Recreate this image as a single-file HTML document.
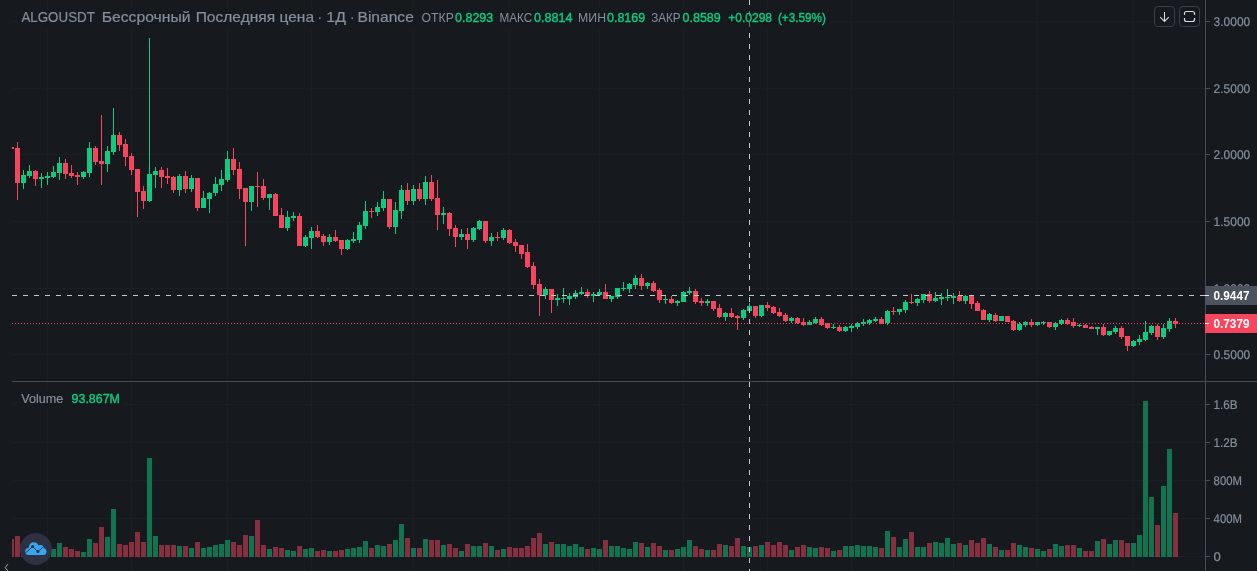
<!DOCTYPE html>
<html><head><meta charset="utf-8"><title>ALGOUSDT</title>
<style>html,body{margin:0;padding:0;background:#161a1e;overflow:hidden}svg{display:block}</style>
</head><body>
<svg width="1257" height="571" viewBox="0 0 1257 571" shape-rendering="crispEdges">
<rect width="1257" height="571" fill="#161a1e"/>
<g fill="#1b1f24">
<rect x="47" y="0" width="1" height="571"/>
<rect x="131" y="0" width="1" height="571"/>
<rect x="227" y="0" width="1" height="571"/>
<rect x="311" y="0" width="1" height="571"/>
<rect x="413" y="0" width="1" height="571"/>
<rect x="509" y="0" width="1" height="571"/>
<rect x="599" y="0" width="1" height="571"/>
<rect x="683" y="0" width="1" height="571"/>
<rect x="767" y="0" width="1" height="571"/>
<rect x="851" y="0" width="1" height="571"/>
<rect x="953" y="0" width="1" height="571"/>
<rect x="1037" y="0" width="1" height="571"/>
<rect x="1133" y="0" width="1" height="571"/>
<rect x="12" y="21" width="1193" height="1"/>
<rect x="12" y="88" width="1193" height="1"/>
<rect x="12" y="154" width="1193" height="1"/>
<rect x="12" y="221" width="1193" height="1"/>
<rect x="12" y="288" width="1193" height="1"/>
<rect x="12" y="354" width="1193" height="1"/>
<rect x="12" y="404" width="1193" height="1"/>
<rect x="12" y="442" width="1193" height="1"/>
<rect x="12" y="480" width="1193" height="1"/>
<rect x="12" y="518" width="1193" height="1"/>
<rect x="12" y="556" width="1193" height="1"/>
</g>
<g>
<rect x="12" y="539" width="2" height="18" fill="#86303f"/>
<rect x="15" y="536" width="5" height="21" fill="#86303f"/>
<rect x="21" y="547" width="5" height="10" fill="#127350"/>
<rect x="27" y="549" width="5" height="8" fill="#127350"/>
<rect x="33" y="549" width="5" height="8" fill="#86303f"/>
<rect x="39" y="549" width="5" height="8" fill="#127350"/>
<rect x="45" y="548" width="5" height="9" fill="#127350"/>
<rect x="51" y="549" width="5" height="8" fill="#127350"/>
<rect x="57" y="543" width="5" height="14" fill="#127350"/>
<rect x="63" y="547" width="5" height="10" fill="#86303f"/>
<rect x="69" y="549" width="5" height="8" fill="#86303f"/>
<rect x="75" y="551" width="5" height="6" fill="#86303f"/>
<rect x="81" y="552" width="5" height="5" fill="#127350"/>
<rect x="87" y="539" width="5" height="18" fill="#127350"/>
<rect x="93" y="543" width="5" height="14" fill="#86303f"/>
<rect x="99" y="527" width="5" height="30" fill="#86303f"/>
<rect x="105" y="537" width="5" height="20" fill="#127350"/>
<rect x="111" y="509" width="5" height="48" fill="#127350"/>
<rect x="117" y="544" width="5" height="13" fill="#86303f"/>
<rect x="123" y="545" width="5" height="12" fill="#86303f"/>
<rect x="129" y="542" width="5" height="15" fill="#86303f"/>
<rect x="135" y="532" width="5" height="25" fill="#86303f"/>
<rect x="141" y="542" width="5" height="15" fill="#86303f"/>
<rect x="147" y="458" width="5" height="99" fill="#127350"/>
<rect x="153" y="536" width="5" height="21" fill="#127350"/>
<rect x="159" y="545" width="5" height="12" fill="#86303f"/>
<rect x="165" y="545" width="5" height="12" fill="#86303f"/>
<rect x="171" y="545" width="5" height="12" fill="#86303f"/>
<rect x="177" y="546" width="5" height="11" fill="#127350"/>
<rect x="183" y="546" width="5" height="11" fill="#86303f"/>
<rect x="189" y="548" width="5" height="9" fill="#127350"/>
<rect x="195" y="542" width="5" height="15" fill="#86303f"/>
<rect x="201" y="548" width="5" height="9" fill="#127350"/>
<rect x="207" y="547" width="5" height="10" fill="#127350"/>
<rect x="213" y="545" width="5" height="12" fill="#127350"/>
<rect x="219" y="544" width="5" height="13" fill="#127350"/>
<rect x="225" y="540" width="5" height="17" fill="#127350"/>
<rect x="231" y="542" width="5" height="15" fill="#86303f"/>
<rect x="237" y="545" width="5" height="12" fill="#86303f"/>
<rect x="243" y="535" width="5" height="22" fill="#86303f"/>
<rect x="249" y="536" width="5" height="21" fill="#127350"/>
<rect x="255" y="520" width="5" height="37" fill="#86303f"/>
<rect x="261" y="545" width="5" height="12" fill="#86303f"/>
<rect x="267" y="549" width="5" height="8" fill="#127350"/>
<rect x="273" y="547" width="5" height="10" fill="#86303f"/>
<rect x="279" y="548" width="5" height="9" fill="#86303f"/>
<rect x="285" y="550" width="5" height="7" fill="#127350"/>
<rect x="291" y="551" width="5" height="6" fill="#127350"/>
<rect x="297" y="546" width="5" height="11" fill="#86303f"/>
<rect x="303" y="549" width="5" height="8" fill="#127350"/>
<rect x="309" y="548" width="5" height="9" fill="#127350"/>
<rect x="315" y="551" width="5" height="6" fill="#86303f"/>
<rect x="321" y="550" width="5" height="7" fill="#86303f"/>
<rect x="327" y="551" width="5" height="6" fill="#127350"/>
<rect x="333" y="551" width="5" height="6" fill="#86303f"/>
<rect x="339" y="550" width="5" height="7" fill="#86303f"/>
<rect x="345" y="549" width="5" height="8" fill="#127350"/>
<rect x="351" y="548" width="5" height="9" fill="#127350"/>
<rect x="357" y="547" width="5" height="10" fill="#127350"/>
<rect x="363" y="541" width="5" height="16" fill="#127350"/>
<rect x="369" y="548" width="5" height="9" fill="#86303f"/>
<rect x="375" y="545" width="5" height="12" fill="#127350"/>
<rect x="381" y="546" width="5" height="11" fill="#127350"/>
<rect x="387" y="544" width="5" height="13" fill="#86303f"/>
<rect x="393" y="540" width="5" height="17" fill="#127350"/>
<rect x="399" y="524" width="5" height="33" fill="#127350"/>
<rect x="405" y="538" width="5" height="19" fill="#86303f"/>
<rect x="411" y="548" width="5" height="9" fill="#127350"/>
<rect x="417" y="548" width="5" height="9" fill="#86303f"/>
<rect x="423" y="539" width="5" height="18" fill="#127350"/>
<rect x="429" y="540" width="5" height="17" fill="#86303f"/>
<rect x="435" y="540" width="5" height="17" fill="#86303f"/>
<rect x="441" y="545" width="5" height="12" fill="#127350"/>
<rect x="447" y="544" width="5" height="13" fill="#86303f"/>
<rect x="453" y="548" width="5" height="9" fill="#86303f"/>
<rect x="459" y="551" width="5" height="6" fill="#127350"/>
<rect x="465" y="544" width="5" height="13" fill="#86303f"/>
<rect x="471" y="546" width="5" height="11" fill="#127350"/>
<rect x="477" y="546" width="5" height="11" fill="#127350"/>
<rect x="483" y="543" width="5" height="14" fill="#86303f"/>
<rect x="489" y="546" width="5" height="11" fill="#127350"/>
<rect x="495" y="550" width="5" height="7" fill="#86303f"/>
<rect x="501" y="549" width="5" height="8" fill="#127350"/>
<rect x="507" y="547" width="5" height="10" fill="#86303f"/>
<rect x="513" y="548" width="5" height="9" fill="#86303f"/>
<rect x="519" y="548" width="5" height="9" fill="#86303f"/>
<rect x="525" y="546" width="5" height="11" fill="#86303f"/>
<rect x="531" y="538" width="5" height="19" fill="#86303f"/>
<rect x="537" y="533" width="5" height="24" fill="#86303f"/>
<rect x="543" y="544" width="5" height="13" fill="#127350"/>
<rect x="549" y="542" width="5" height="15" fill="#86303f"/>
<rect x="555" y="544" width="5" height="13" fill="#127350"/>
<rect x="561" y="544" width="5" height="13" fill="#127350"/>
<rect x="567" y="546" width="5" height="11" fill="#127350"/>
<rect x="573" y="544" width="5" height="13" fill="#127350"/>
<rect x="579" y="547" width="5" height="10" fill="#127350"/>
<rect x="585" y="549" width="5" height="8" fill="#86303f"/>
<rect x="591" y="548" width="5" height="9" fill="#127350"/>
<rect x="597" y="549" width="5" height="8" fill="#127350"/>
<rect x="603" y="540" width="5" height="17" fill="#86303f"/>
<rect x="609" y="546" width="5" height="11" fill="#127350"/>
<rect x="615" y="546" width="5" height="11" fill="#127350"/>
<rect x="621" y="548" width="5" height="9" fill="#127350"/>
<rect x="627" y="549" width="5" height="8" fill="#127350"/>
<rect x="633" y="542" width="5" height="15" fill="#127350"/>
<rect x="639" y="543" width="5" height="14" fill="#86303f"/>
<rect x="645" y="547" width="5" height="10" fill="#127350"/>
<rect x="651" y="543" width="5" height="14" fill="#86303f"/>
<rect x="657" y="546" width="5" height="11" fill="#86303f"/>
<rect x="663" y="550" width="5" height="7" fill="#127350"/>
<rect x="669" y="550" width="5" height="7" fill="#86303f"/>
<rect x="675" y="549" width="5" height="8" fill="#127350"/>
<rect x="681" y="547" width="5" height="10" fill="#127350"/>
<rect x="687" y="540" width="5" height="17" fill="#127350"/>
<rect x="693" y="546" width="5" height="11" fill="#86303f"/>
<rect x="699" y="549" width="5" height="8" fill="#86303f"/>
<rect x="705" y="550" width="5" height="7" fill="#127350"/>
<rect x="711" y="550" width="5" height="7" fill="#86303f"/>
<rect x="717" y="544" width="5" height="13" fill="#86303f"/>
<rect x="723" y="545" width="5" height="12" fill="#127350"/>
<rect x="729" y="546" width="5" height="11" fill="#86303f"/>
<rect x="735" y="538" width="5" height="19" fill="#86303f"/>
<rect x="741" y="546" width="5" height="11" fill="#127350"/>
<rect x="747" y="547" width="5" height="10" fill="#127350"/>
<rect x="753" y="546" width="5" height="11" fill="#86303f"/>
<rect x="759" y="545" width="5" height="12" fill="#127350"/>
<rect x="765" y="542" width="5" height="15" fill="#86303f"/>
<rect x="771" y="545" width="5" height="12" fill="#86303f"/>
<rect x="777" y="542" width="5" height="15" fill="#86303f"/>
<rect x="783" y="545" width="5" height="12" fill="#86303f"/>
<rect x="789" y="550" width="5" height="7" fill="#127350"/>
<rect x="795" y="547" width="5" height="10" fill="#86303f"/>
<rect x="801" y="545" width="5" height="12" fill="#86303f"/>
<rect x="807" y="547" width="5" height="10" fill="#127350"/>
<rect x="813" y="548" width="5" height="9" fill="#127350"/>
<rect x="819" y="547" width="5" height="10" fill="#86303f"/>
<rect x="825" y="548" width="5" height="9" fill="#86303f"/>
<rect x="831" y="551" width="5" height="6" fill="#127350"/>
<rect x="837" y="550" width="5" height="7" fill="#86303f"/>
<rect x="843" y="546" width="5" height="11" fill="#127350"/>
<rect x="849" y="546" width="5" height="11" fill="#127350"/>
<rect x="855" y="545" width="5" height="12" fill="#127350"/>
<rect x="861" y="546" width="5" height="11" fill="#127350"/>
<rect x="867" y="546" width="5" height="11" fill="#127350"/>
<rect x="873" y="547" width="5" height="10" fill="#127350"/>
<rect x="879" y="548" width="5" height="9" fill="#86303f"/>
<rect x="885" y="531" width="5" height="26" fill="#127350"/>
<rect x="891" y="537" width="5" height="20" fill="#86303f"/>
<rect x="897" y="547" width="5" height="10" fill="#127350"/>
<rect x="903" y="539" width="5" height="18" fill="#127350"/>
<rect x="909" y="532" width="5" height="25" fill="#86303f"/>
<rect x="915" y="547" width="5" height="10" fill="#127350"/>
<rect x="921" y="547" width="5" height="10" fill="#127350"/>
<rect x="927" y="543" width="5" height="14" fill="#86303f"/>
<rect x="933" y="542" width="5" height="15" fill="#127350"/>
<rect x="939" y="543" width="5" height="14" fill="#127350"/>
<rect x="945" y="538" width="5" height="19" fill="#127350"/>
<rect x="951" y="544" width="5" height="13" fill="#127350"/>
<rect x="957" y="543" width="5" height="14" fill="#86303f"/>
<rect x="963" y="545" width="5" height="12" fill="#127350"/>
<rect x="969" y="540" width="5" height="17" fill="#86303f"/>
<rect x="975" y="543" width="5" height="14" fill="#86303f"/>
<rect x="981" y="538" width="5" height="19" fill="#86303f"/>
<rect x="987" y="544" width="5" height="13" fill="#127350"/>
<rect x="993" y="547" width="5" height="10" fill="#86303f"/>
<rect x="999" y="550" width="5" height="7" fill="#127350"/>
<rect x="1005" y="550" width="5" height="7" fill="#86303f"/>
<rect x="1011" y="543" width="5" height="14" fill="#86303f"/>
<rect x="1017" y="545" width="5" height="12" fill="#127350"/>
<rect x="1023" y="547" width="5" height="10" fill="#127350"/>
<rect x="1029" y="548" width="5" height="9" fill="#86303f"/>
<rect x="1035" y="549" width="5" height="8" fill="#127350"/>
<rect x="1041" y="551" width="5" height="6" fill="#127350"/>
<rect x="1047" y="549" width="5" height="8" fill="#86303f"/>
<rect x="1053" y="544" width="5" height="13" fill="#127350"/>
<rect x="1059" y="546" width="5" height="11" fill="#127350"/>
<rect x="1065" y="545" width="5" height="12" fill="#86303f"/>
<rect x="1071" y="545" width="5" height="12" fill="#86303f"/>
<rect x="1077" y="548" width="5" height="9" fill="#127350"/>
<rect x="1083" y="551" width="5" height="6" fill="#86303f"/>
<rect x="1089" y="551" width="5" height="6" fill="#86303f"/>
<rect x="1095" y="541" width="5" height="16" fill="#127350"/>
<rect x="1101" y="539" width="5" height="18" fill="#86303f"/>
<rect x="1107" y="544" width="5" height="13" fill="#127350"/>
<rect x="1113" y="540" width="5" height="17" fill="#127350"/>
<rect x="1119" y="540" width="5" height="17" fill="#86303f"/>
<rect x="1125" y="543" width="5" height="14" fill="#86303f"/>
<rect x="1131" y="543" width="5" height="14" fill="#127350"/>
<rect x="1137" y="535" width="5" height="22" fill="#127350"/>
<rect x="1143" y="401" width="5" height="156" fill="#127350"/>
<rect x="1149" y="497" width="5" height="60" fill="#127350"/>
<rect x="1155" y="525" width="5" height="32" fill="#86303f"/>
<rect x="1161" y="486" width="5" height="71" fill="#127350"/>
<rect x="1167" y="449" width="5" height="108" fill="#127350"/>
<rect x="1173" y="513" width="5" height="44" fill="#86303f"/>
</g>
<g>
<rect x="12" y="147" width="2" height="2" fill="#f6465d"/>
<rect x="17" y="142" width="1" height="58" fill="#f6465d"/><rect x="15" y="148" width="5" height="35" fill="#f6465d"/>
<rect x="23" y="170" width="1" height="19" fill="#0ecb81"/><rect x="21" y="175" width="5" height="8" fill="#0ecb81"/>
<rect x="29" y="165" width="1" height="13" fill="#0ecb81"/><rect x="27" y="171" width="5" height="5" fill="#0ecb81"/>
<rect x="35" y="170" width="1" height="16" fill="#f6465d"/><rect x="33" y="171" width="5" height="8" fill="#f6465d"/>
<rect x="41" y="173" width="1" height="15" fill="#0ecb81"/><rect x="39" y="177" width="5" height="2" fill="#0ecb81"/>
<rect x="47" y="172" width="1" height="13" fill="#0ecb81"/><rect x="45" y="176" width="5" height="2" fill="#0ecb81"/>
<rect x="53" y="166" width="1" height="12" fill="#0ecb81"/><rect x="51" y="172" width="5" height="5" fill="#0ecb81"/>
<rect x="59" y="157" width="1" height="23" fill="#0ecb81"/><rect x="57" y="163" width="5" height="10" fill="#0ecb81"/>
<rect x="65" y="159" width="1" height="20" fill="#f6465d"/><rect x="63" y="163" width="5" height="11" fill="#f6465d"/>
<rect x="71" y="165" width="1" height="13" fill="#f6465d"/><rect x="69" y="173" width="5" height="3" fill="#f6465d"/>
<rect x="77" y="172" width="1" height="13" fill="#f6465d"/><rect x="75" y="175" width="5" height="2" fill="#f6465d"/>
<rect x="83" y="171" width="1" height="8" fill="#0ecb81"/><rect x="81" y="172" width="5" height="5" fill="#0ecb81"/>
<rect x="89" y="142" width="1" height="35" fill="#0ecb81"/><rect x="87" y="148" width="5" height="25" fill="#0ecb81"/>
<rect x="95" y="146" width="1" height="19" fill="#f6465d"/><rect x="93" y="148" width="5" height="14" fill="#f6465d"/>
<rect x="101" y="115" width="1" height="70" fill="#f6465d"/><rect x="99" y="161" width="5" height="3" fill="#f6465d"/>
<rect x="107" y="146" width="1" height="26" fill="#0ecb81"/><rect x="105" y="151" width="5" height="13" fill="#0ecb81"/>
<rect x="113" y="108" width="1" height="47" fill="#0ecb81"/><rect x="111" y="135" width="5" height="17" fill="#0ecb81"/>
<rect x="119" y="132" width="1" height="19" fill="#f6465d"/><rect x="117" y="135" width="5" height="10" fill="#f6465d"/>
<rect x="125" y="139" width="1" height="27" fill="#f6465d"/><rect x="123" y="144" width="5" height="13" fill="#f6465d"/>
<rect x="131" y="153" width="1" height="22" fill="#f6465d"/><rect x="129" y="156" width="5" height="14" fill="#f6465d"/>
<rect x="137" y="169" width="1" height="48" fill="#f6465d"/><rect x="135" y="169" width="5" height="23" fill="#f6465d"/>
<rect x="143" y="186" width="1" height="23" fill="#f6465d"/><rect x="141" y="191" width="5" height="10" fill="#f6465d"/>
<rect x="149" y="38" width="1" height="164" fill="#0ecb81"/><rect x="147" y="174" width="5" height="27" fill="#0ecb81"/>
<rect x="155" y="167" width="1" height="21" fill="#0ecb81"/><rect x="153" y="171" width="5" height="4" fill="#0ecb81"/>
<rect x="161" y="167" width="1" height="21" fill="#f6465d"/><rect x="159" y="170" width="5" height="7" fill="#f6465d"/>
<rect x="167" y="168" width="1" height="16" fill="#f6465d"/><rect x="165" y="176" width="5" height="2" fill="#f6465d"/>
<rect x="173" y="176" width="1" height="17" fill="#f6465d"/><rect x="171" y="177" width="5" height="13" fill="#f6465d"/>
<rect x="179" y="174" width="1" height="22" fill="#0ecb81"/><rect x="177" y="176" width="5" height="14" fill="#0ecb81"/>
<rect x="185" y="171" width="1" height="22" fill="#f6465d"/><rect x="183" y="176" width="5" height="13" fill="#f6465d"/>
<rect x="191" y="175" width="1" height="17" fill="#0ecb81"/><rect x="189" y="178" width="5" height="11" fill="#0ecb81"/>
<rect x="197" y="178" width="1" height="33" fill="#f6465d"/><rect x="195" y="178" width="5" height="30" fill="#f6465d"/>
<rect x="203" y="191" width="1" height="17" fill="#0ecb81"/><rect x="201" y="198" width="5" height="10" fill="#0ecb81"/>
<rect x="209" y="192" width="1" height="21" fill="#0ecb81"/><rect x="207" y="193" width="5" height="6" fill="#0ecb81"/>
<rect x="215" y="177" width="1" height="19" fill="#0ecb81"/><rect x="213" y="184" width="5" height="9" fill="#0ecb81"/>
<rect x="221" y="170" width="1" height="21" fill="#0ecb81"/><rect x="219" y="179" width="5" height="6" fill="#0ecb81"/>
<rect x="227" y="151" width="1" height="31" fill="#0ecb81"/><rect x="225" y="159" width="5" height="21" fill="#0ecb81"/>
<rect x="233" y="148" width="1" height="27" fill="#f6465d"/><rect x="231" y="159" width="5" height="11" fill="#f6465d"/>
<rect x="239" y="162" width="1" height="37" fill="#f6465d"/><rect x="237" y="169" width="5" height="20" fill="#f6465d"/>
<rect x="245" y="188" width="1" height="58" fill="#f6465d"/><rect x="243" y="188" width="5" height="14" fill="#f6465d"/>
<rect x="251" y="186" width="1" height="25" fill="#0ecb81"/><rect x="249" y="186" width="5" height="16" fill="#0ecb81"/>
<rect x="257" y="172" width="1" height="35" fill="#f6465d"/><rect x="255" y="186" width="5" height="1" fill="#f6465d"/>
<rect x="263" y="179" width="1" height="21" fill="#f6465d"/><rect x="261" y="186" width="5" height="12" fill="#f6465d"/>
<rect x="269" y="194" width="1" height="16" fill="#0ecb81"/><rect x="267" y="194" width="5" height="4" fill="#0ecb81"/>
<rect x="275" y="193" width="1" height="23" fill="#f6465d"/><rect x="273" y="194" width="5" height="22" fill="#f6465d"/>
<rect x="281" y="208" width="1" height="20" fill="#f6465d"/><rect x="279" y="215" width="5" height="13" fill="#f6465d"/>
<rect x="287" y="211" width="1" height="20" fill="#0ecb81"/><rect x="285" y="217" width="5" height="11" fill="#0ecb81"/>
<rect x="293" y="212" width="1" height="9" fill="#0ecb81"/><rect x="291" y="216" width="5" height="2" fill="#0ecb81"/>
<rect x="299" y="213" width="1" height="33" fill="#f6465d"/><rect x="297" y="216" width="5" height="30" fill="#f6465d"/>
<rect x="305" y="235" width="1" height="12" fill="#0ecb81"/><rect x="303" y="237" width="5" height="9" fill="#0ecb81"/>
<rect x="311" y="227" width="1" height="22" fill="#0ecb81"/><rect x="309" y="231" width="5" height="7" fill="#0ecb81"/>
<rect x="317" y="225" width="1" height="13" fill="#f6465d"/><rect x="315" y="231" width="5" height="6" fill="#f6465d"/>
<rect x="323" y="234" width="1" height="12" fill="#f6465d"/><rect x="321" y="236" width="5" height="6" fill="#f6465d"/>
<rect x="329" y="234" width="1" height="11" fill="#0ecb81"/><rect x="327" y="237" width="5" height="5" fill="#0ecb81"/>
<rect x="335" y="230" width="1" height="12" fill="#f6465d"/><rect x="333" y="237" width="5" height="4" fill="#f6465d"/>
<rect x="341" y="240" width="1" height="15" fill="#f6465d"/><rect x="339" y="240" width="5" height="9" fill="#f6465d"/>
<rect x="347" y="239" width="1" height="11" fill="#0ecb81"/><rect x="345" y="240" width="5" height="9" fill="#0ecb81"/>
<rect x="353" y="232" width="1" height="11" fill="#0ecb81"/><rect x="351" y="239" width="5" height="2" fill="#0ecb81"/>
<rect x="359" y="222" width="1" height="21" fill="#0ecb81"/><rect x="357" y="225" width="5" height="15" fill="#0ecb81"/>
<rect x="365" y="201" width="1" height="28" fill="#0ecb81"/><rect x="363" y="211" width="5" height="15" fill="#0ecb81"/>
<rect x="371" y="208" width="1" height="10" fill="#f6465d"/><rect x="369" y="211" width="5" height="1" fill="#f6465d"/>
<rect x="377" y="202" width="1" height="14" fill="#0ecb81"/><rect x="375" y="207" width="5" height="5" fill="#0ecb81"/>
<rect x="383" y="191" width="1" height="20" fill="#0ecb81"/><rect x="381" y="199" width="5" height="9" fill="#0ecb81"/>
<rect x="389" y="199" width="1" height="30" fill="#f6465d"/><rect x="387" y="199" width="5" height="28" fill="#f6465d"/>
<rect x="395" y="202" width="1" height="32" fill="#0ecb81"/><rect x="393" y="210" width="5" height="17" fill="#0ecb81"/>
<rect x="401" y="185" width="1" height="34" fill="#0ecb81"/><rect x="399" y="190" width="5" height="21" fill="#0ecb81"/>
<rect x="407" y="183" width="1" height="22" fill="#f6465d"/><rect x="405" y="190" width="5" height="11" fill="#f6465d"/>
<rect x="413" y="185" width="1" height="20" fill="#0ecb81"/><rect x="411" y="189" width="5" height="12" fill="#0ecb81"/>
<rect x="419" y="183" width="1" height="18" fill="#f6465d"/><rect x="417" y="189" width="5" height="10" fill="#f6465d"/>
<rect x="425" y="176" width="1" height="29" fill="#0ecb81"/><rect x="423" y="182" width="5" height="17" fill="#0ecb81"/>
<rect x="431" y="175" width="1" height="26" fill="#f6465d"/><rect x="429" y="182" width="5" height="17" fill="#f6465d"/>
<rect x="437" y="180" width="1" height="50" fill="#f6465d"/><rect x="435" y="198" width="5" height="17" fill="#f6465d"/>
<rect x="443" y="207" width="1" height="17" fill="#0ecb81"/><rect x="441" y="213" width="5" height="2" fill="#0ecb81"/>
<rect x="449" y="212" width="1" height="24" fill="#f6465d"/><rect x="447" y="213" width="5" height="16" fill="#f6465d"/>
<rect x="455" y="225" width="1" height="22" fill="#f6465d"/><rect x="453" y="228" width="5" height="9" fill="#f6465d"/>
<rect x="461" y="229" width="1" height="11" fill="#0ecb81"/><rect x="459" y="234" width="5" height="3" fill="#0ecb81"/>
<rect x="467" y="228" width="1" height="21" fill="#f6465d"/><rect x="465" y="234" width="5" height="6" fill="#f6465d"/>
<rect x="473" y="227" width="1" height="15" fill="#0ecb81"/><rect x="471" y="228" width="5" height="12" fill="#0ecb81"/>
<rect x="479" y="220" width="1" height="10" fill="#0ecb81"/><rect x="477" y="221" width="5" height="8" fill="#0ecb81"/>
<rect x="485" y="221" width="1" height="22" fill="#f6465d"/><rect x="483" y="221" width="5" height="20" fill="#f6465d"/>
<rect x="491" y="233" width="1" height="13" fill="#0ecb81"/><rect x="489" y="237" width="5" height="4" fill="#0ecb81"/>
<rect x="497" y="232" width="1" height="9" fill="#f6465d"/><rect x="495" y="237" width="5" height="1" fill="#f6465d"/>
<rect x="503" y="228" width="1" height="12" fill="#0ecb81"/><rect x="501" y="230" width="5" height="8" fill="#0ecb81"/>
<rect x="509" y="229" width="1" height="15" fill="#f6465d"/><rect x="507" y="230" width="5" height="13" fill="#f6465d"/>
<rect x="515" y="239" width="1" height="13" fill="#f6465d"/><rect x="513" y="242" width="5" height="4" fill="#f6465d"/>
<rect x="521" y="245" width="1" height="14" fill="#f6465d"/><rect x="519" y="245" width="5" height="9" fill="#f6465d"/>
<rect x="527" y="244" width="1" height="24" fill="#f6465d"/><rect x="525" y="252" width="5" height="15" fill="#f6465d"/>
<rect x="533" y="262" width="1" height="27" fill="#f6465d"/><rect x="531" y="266" width="5" height="19" fill="#f6465d"/>
<rect x="539" y="279" width="1" height="37" fill="#f6465d"/><rect x="537" y="284" width="5" height="11" fill="#f6465d"/>
<rect x="545" y="287" width="1" height="12" fill="#0ecb81"/><rect x="543" y="289" width="5" height="6" fill="#0ecb81"/>
<rect x="551" y="289" width="1" height="24" fill="#f6465d"/><rect x="549" y="289" width="5" height="11" fill="#f6465d"/>
<rect x="557" y="294" width="1" height="12" fill="#0ecb81"/><rect x="555" y="298" width="5" height="2" fill="#0ecb81"/>
<rect x="563" y="288" width="1" height="15" fill="#0ecb81"/><rect x="561" y="298" width="5" height="1" fill="#0ecb81"/>
<rect x="569" y="293" width="1" height="12" fill="#0ecb81"/><rect x="567" y="296" width="5" height="3" fill="#0ecb81"/>
<rect x="575" y="290" width="1" height="9" fill="#0ecb81"/><rect x="573" y="293" width="5" height="4" fill="#0ecb81"/>
<rect x="581" y="287" width="1" height="8" fill="#0ecb81"/><rect x="579" y="292" width="5" height="2" fill="#0ecb81"/>
<rect x="587" y="289" width="1" height="9" fill="#f6465d"/><rect x="585" y="292" width="5" height="4" fill="#f6465d"/>
<rect x="593" y="292" width="1" height="10" fill="#0ecb81"/><rect x="591" y="294" width="5" height="2" fill="#0ecb81"/>
<rect x="599" y="289" width="1" height="6" fill="#0ecb81"/><rect x="597" y="292" width="5" height="3" fill="#0ecb81"/>
<rect x="605" y="284" width="1" height="15" fill="#f6465d"/><rect x="603" y="292" width="5" height="7" fill="#f6465d"/>
<rect x="611" y="296" width="1" height="6" fill="#0ecb81"/><rect x="609" y="296" width="5" height="3" fill="#0ecb81"/>
<rect x="617" y="288" width="1" height="11" fill="#0ecb81"/><rect x="615" y="288" width="5" height="9" fill="#0ecb81"/>
<rect x="623" y="282" width="1" height="9" fill="#0ecb81"/><rect x="621" y="288" width="5" height="1" fill="#0ecb81"/>
<rect x="629" y="283" width="1" height="10" fill="#0ecb81"/><rect x="627" y="284" width="5" height="5" fill="#0ecb81"/>
<rect x="635" y="275" width="1" height="14" fill="#0ecb81"/><rect x="633" y="278" width="5" height="7" fill="#0ecb81"/>
<rect x="641" y="274" width="1" height="16" fill="#f6465d"/><rect x="639" y="278" width="5" height="8" fill="#f6465d"/>
<rect x="647" y="282" width="1" height="7" fill="#0ecb81"/><rect x="645" y="283" width="5" height="3" fill="#0ecb81"/>
<rect x="653" y="281" width="1" height="11" fill="#f6465d"/><rect x="651" y="283" width="5" height="8" fill="#f6465d"/>
<rect x="659" y="288" width="1" height="15" fill="#f6465d"/><rect x="657" y="290" width="5" height="10" fill="#f6465d"/>
<rect x="665" y="296" width="1" height="8" fill="#0ecb81"/><rect x="663" y="299" width="5" height="1" fill="#0ecb81"/>
<rect x="671" y="296" width="1" height="8" fill="#f6465d"/><rect x="669" y="299" width="5" height="4" fill="#f6465d"/>
<rect x="677" y="300" width="1" height="6" fill="#0ecb81"/><rect x="675" y="301" width="5" height="2" fill="#0ecb81"/>
<rect x="683" y="291" width="1" height="11" fill="#0ecb81"/><rect x="681" y="292" width="5" height="10" fill="#0ecb81"/>
<rect x="689" y="287" width="1" height="8" fill="#0ecb81"/><rect x="687" y="291" width="5" height="2" fill="#0ecb81"/>
<rect x="695" y="289" width="1" height="15" fill="#f6465d"/><rect x="693" y="291" width="5" height="11" fill="#f6465d"/>
<rect x="701" y="298" width="1" height="8" fill="#f6465d"/><rect x="699" y="301" width="5" height="2" fill="#f6465d"/>
<rect x="707" y="299" width="1" height="7" fill="#0ecb81"/><rect x="705" y="301" width="5" height="2" fill="#0ecb81"/>
<rect x="713" y="301" width="1" height="10" fill="#f6465d"/><rect x="711" y="301" width="5" height="8" fill="#f6465d"/>
<rect x="719" y="304" width="1" height="14" fill="#f6465d"/><rect x="717" y="308" width="5" height="9" fill="#f6465d"/>
<rect x="725" y="312" width="1" height="9" fill="#0ecb81"/><rect x="723" y="313" width="5" height="4" fill="#0ecb81"/>
<rect x="731" y="308" width="1" height="10" fill="#f6465d"/><rect x="729" y="313" width="5" height="4" fill="#f6465d"/>
<rect x="737" y="315" width="1" height="15" fill="#f6465d"/><rect x="735" y="316" width="5" height="2" fill="#f6465d"/>
<rect x="743" y="309" width="1" height="11" fill="#0ecb81"/><rect x="741" y="310" width="5" height="8" fill="#0ecb81"/>
<rect x="749" y="303" width="1" height="10" fill="#0ecb81"/><rect x="747" y="306" width="5" height="5" fill="#0ecb81"/>
<rect x="755" y="306" width="1" height="12" fill="#f6465d"/><rect x="753" y="306" width="5" height="10" fill="#f6465d"/>
<rect x="761" y="305" width="1" height="12" fill="#0ecb81"/><rect x="759" y="305" width="5" height="11" fill="#0ecb81"/>
<rect x="767" y="302" width="1" height="9" fill="#f6465d"/><rect x="765" y="305" width="5" height="3" fill="#f6465d"/>
<rect x="773" y="306" width="1" height="8" fill="#f6465d"/><rect x="771" y="307" width="5" height="6" fill="#f6465d"/>
<rect x="779" y="308" width="1" height="9" fill="#f6465d"/><rect x="777" y="312" width="5" height="4" fill="#f6465d"/>
<rect x="785" y="313" width="1" height="9" fill="#f6465d"/><rect x="783" y="315" width="5" height="6" fill="#f6465d"/>
<rect x="791" y="317" width="1" height="6" fill="#0ecb81"/><rect x="789" y="318" width="5" height="3" fill="#0ecb81"/>
<rect x="797" y="317" width="1" height="7" fill="#f6465d"/><rect x="795" y="318" width="5" height="5" fill="#f6465d"/>
<rect x="803" y="318" width="1" height="8" fill="#f6465d"/><rect x="801" y="322" width="5" height="3" fill="#f6465d"/>
<rect x="809" y="320" width="1" height="5" fill="#0ecb81"/><rect x="807" y="322" width="5" height="3" fill="#0ecb81"/>
<rect x="815" y="317" width="1" height="7" fill="#0ecb81"/><rect x="813" y="319" width="5" height="4" fill="#0ecb81"/>
<rect x="821" y="317" width="1" height="9" fill="#f6465d"/><rect x="819" y="319" width="5" height="6" fill="#f6465d"/>
<rect x="827" y="323" width="1" height="6" fill="#f6465d"/><rect x="825" y="323" width="5" height="5" fill="#f6465d"/>
<rect x="833" y="324" width="1" height="5" fill="#0ecb81"/><rect x="831" y="327" width="5" height="1" fill="#0ecb81"/>
<rect x="839" y="325" width="1" height="7" fill="#f6465d"/><rect x="837" y="327" width="5" height="4" fill="#f6465d"/>
<rect x="845" y="326" width="1" height="6" fill="#0ecb81"/><rect x="843" y="327" width="5" height="4" fill="#0ecb81"/>
<rect x="851" y="324" width="1" height="8" fill="#0ecb81"/><rect x="849" y="326" width="5" height="2" fill="#0ecb81"/>
<rect x="857" y="322" width="1" height="7" fill="#0ecb81"/><rect x="855" y="323" width="5" height="4" fill="#0ecb81"/>
<rect x="863" y="319" width="1" height="7" fill="#0ecb81"/><rect x="861" y="322" width="5" height="2" fill="#0ecb81"/>
<rect x="869" y="319" width="1" height="6" fill="#0ecb81"/><rect x="867" y="320" width="5" height="3" fill="#0ecb81"/>
<rect x="875" y="317" width="1" height="5" fill="#0ecb81"/><rect x="873" y="319" width="5" height="2" fill="#0ecb81"/>
<rect x="881" y="317" width="1" height="7" fill="#f6465d"/><rect x="879" y="319" width="5" height="5" fill="#f6465d"/>
<rect x="887" y="310" width="1" height="15" fill="#0ecb81"/><rect x="885" y="311" width="5" height="12" fill="#0ecb81"/>
<rect x="893" y="307" width="1" height="8" fill="#f6465d"/><rect x="891" y="311" width="5" height="1" fill="#f6465d"/>
<rect x="899" y="309" width="1" height="6" fill="#0ecb81"/><rect x="897" y="309" width="5" height="3" fill="#0ecb81"/>
<rect x="905" y="300" width="1" height="13" fill="#0ecb81"/><rect x="903" y="302" width="5" height="8" fill="#0ecb81"/>
<rect x="911" y="294" width="1" height="10" fill="#f6465d"/><rect x="909" y="302" width="5" height="1" fill="#f6465d"/>
<rect x="917" y="298" width="1" height="8" fill="#0ecb81"/><rect x="915" y="299" width="5" height="4" fill="#0ecb81"/>
<rect x="923" y="294" width="1" height="9" fill="#0ecb81"/><rect x="921" y="294" width="5" height="6" fill="#0ecb81"/>
<rect x="929" y="291" width="1" height="12" fill="#f6465d"/><rect x="927" y="294" width="5" height="7" fill="#f6465d"/>
<rect x="935" y="292" width="1" height="10" fill="#0ecb81"/><rect x="933" y="298" width="5" height="3" fill="#0ecb81"/>
<rect x="941" y="293" width="1" height="12" fill="#0ecb81"/><rect x="939" y="297" width="5" height="2" fill="#0ecb81"/>
<rect x="947" y="289" width="1" height="12" fill="#0ecb81"/><rect x="945" y="297" width="5" height="1" fill="#0ecb81"/>
<rect x="953" y="293" width="1" height="11" fill="#0ecb81"/><rect x="951" y="296" width="5" height="2" fill="#0ecb81"/>
<rect x="959" y="291" width="1" height="11" fill="#f6465d"/><rect x="957" y="296" width="5" height="5" fill="#f6465d"/>
<rect x="965" y="295" width="1" height="9" fill="#0ecb81"/><rect x="963" y="296" width="5" height="5" fill="#0ecb81"/>
<rect x="971" y="296" width="1" height="13" fill="#f6465d"/><rect x="969" y="296" width="5" height="8" fill="#f6465d"/>
<rect x="977" y="301" width="1" height="10" fill="#f6465d"/><rect x="975" y="303" width="5" height="8" fill="#f6465d"/>
<rect x="983" y="309" width="1" height="11" fill="#f6465d"/><rect x="981" y="310" width="5" height="10" fill="#f6465d"/>
<rect x="989" y="313" width="1" height="9" fill="#0ecb81"/><rect x="987" y="314" width="5" height="6" fill="#0ecb81"/>
<rect x="995" y="313" width="1" height="9" fill="#f6465d"/><rect x="993" y="315" width="5" height="6" fill="#f6465d"/>
<rect x="1001" y="316" width="1" height="5" fill="#0ecb81"/><rect x="999" y="316" width="5" height="5" fill="#0ecb81"/>
<rect x="1007" y="316" width="1" height="6" fill="#f6465d"/><rect x="1005" y="316" width="5" height="6" fill="#f6465d"/>
<rect x="1013" y="320" width="1" height="11" fill="#f6465d"/><rect x="1011" y="321" width="5" height="9" fill="#f6465d"/>
<rect x="1019" y="322" width="1" height="9" fill="#0ecb81"/><rect x="1017" y="324" width="5" height="6" fill="#0ecb81"/>
<rect x="1025" y="321" width="1" height="6" fill="#0ecb81"/><rect x="1023" y="322" width="5" height="3" fill="#0ecb81"/>
<rect x="1031" y="319" width="1" height="8" fill="#f6465d"/><rect x="1029" y="322" width="5" height="3" fill="#f6465d"/>
<rect x="1037" y="322" width="1" height="4" fill="#0ecb81"/><rect x="1035" y="322" width="5" height="3" fill="#0ecb81"/>
<rect x="1043" y="321" width="1" height="4" fill="#0ecb81"/><rect x="1041" y="322" width="5" height="1" fill="#0ecb81"/>
<rect x="1049" y="322" width="1" height="6" fill="#f6465d"/><rect x="1047" y="322" width="5" height="5" fill="#f6465d"/>
<rect x="1055" y="322" width="1" height="8" fill="#0ecb81"/><rect x="1053" y="323" width="5" height="4" fill="#0ecb81"/>
<rect x="1061" y="319" width="1" height="6" fill="#0ecb81"/><rect x="1059" y="320" width="5" height="4" fill="#0ecb81"/>
<rect x="1067" y="318" width="1" height="7" fill="#f6465d"/><rect x="1065" y="320" width="5" height="4" fill="#f6465d"/>
<rect x="1073" y="318" width="1" height="10" fill="#f6465d"/><rect x="1071" y="322" width="5" height="4" fill="#f6465d"/>
<rect x="1079" y="324" width="1" height="3" fill="#0ecb81"/><rect x="1077" y="325" width="5" height="1" fill="#0ecb81"/>
<rect x="1085" y="324" width="1" height="4" fill="#f6465d"/><rect x="1083" y="325" width="5" height="3" fill="#f6465d"/>
<rect x="1091" y="326" width="1" height="3" fill="#f6465d"/><rect x="1089" y="327" width="5" height="2" fill="#f6465d"/>
<rect x="1097" y="327" width="1" height="8" fill="#0ecb81"/><rect x="1095" y="327" width="5" height="2" fill="#0ecb81"/>
<rect x="1103" y="324" width="1" height="12" fill="#f6465d"/><rect x="1101" y="327" width="5" height="8" fill="#f6465d"/>
<rect x="1109" y="331" width="1" height="5" fill="#0ecb81"/><rect x="1107" y="331" width="5" height="4" fill="#0ecb81"/>
<rect x="1115" y="326" width="1" height="8" fill="#0ecb81"/><rect x="1113" y="328" width="5" height="4" fill="#0ecb81"/>
<rect x="1121" y="326" width="1" height="13" fill="#f6465d"/><rect x="1119" y="328" width="5" height="9" fill="#f6465d"/>
<rect x="1127" y="336" width="1" height="15" fill="#f6465d"/><rect x="1125" y="336" width="5" height="10" fill="#f6465d"/>
<rect x="1133" y="340" width="1" height="7" fill="#0ecb81"/><rect x="1131" y="341" width="5" height="5" fill="#0ecb81"/>
<rect x="1139" y="335" width="1" height="10" fill="#0ecb81"/><rect x="1137" y="339" width="5" height="3" fill="#0ecb81"/>
<rect x="1145" y="321" width="1" height="20" fill="#0ecb81"/><rect x="1143" y="332" width="5" height="8" fill="#0ecb81"/>
<rect x="1151" y="325" width="1" height="10" fill="#0ecb81"/><rect x="1149" y="326" width="5" height="7" fill="#0ecb81"/>
<rect x="1157" y="324" width="1" height="16" fill="#f6465d"/><rect x="1155" y="326" width="5" height="11" fill="#f6465d"/>
<rect x="1163" y="324" width="1" height="15" fill="#0ecb81"/><rect x="1161" y="328" width="5" height="9" fill="#0ecb81"/>
<rect x="1169" y="318" width="1" height="14" fill="#0ecb81"/><rect x="1167" y="321" width="5" height="8" fill="#0ecb81"/>
<rect x="1175" y="318" width="1" height="10" fill="#f6465d"/><rect x="1173" y="321" width="5" height="3" fill="#f6465d"/>
</g>
<g fill="#f6465d">
<rect x="12" y="323" width="1" height="1"/>
<rect x="15" y="323" width="1" height="1"/>
<rect x="18" y="323" width="1" height="1"/>
<rect x="21" y="323" width="1" height="1"/>
<rect x="24" y="323" width="1" height="1"/>
<rect x="27" y="323" width="1" height="1"/>
<rect x="30" y="323" width="1" height="1"/>
<rect x="33" y="323" width="1" height="1"/>
<rect x="36" y="323" width="1" height="1"/>
<rect x="39" y="323" width="1" height="1"/>
<rect x="42" y="323" width="1" height="1"/>
<rect x="45" y="323" width="1" height="1"/>
<rect x="48" y="323" width="1" height="1"/>
<rect x="51" y="323" width="1" height="1"/>
<rect x="54" y="323" width="1" height="1"/>
<rect x="57" y="323" width="1" height="1"/>
<rect x="60" y="323" width="1" height="1"/>
<rect x="63" y="323" width="1" height="1"/>
<rect x="66" y="323" width="1" height="1"/>
<rect x="69" y="323" width="1" height="1"/>
<rect x="72" y="323" width="1" height="1"/>
<rect x="75" y="323" width="1" height="1"/>
<rect x="78" y="323" width="1" height="1"/>
<rect x="81" y="323" width="1" height="1"/>
<rect x="84" y="323" width="1" height="1"/>
<rect x="87" y="323" width="1" height="1"/>
<rect x="90" y="323" width="1" height="1"/>
<rect x="93" y="323" width="1" height="1"/>
<rect x="96" y="323" width="1" height="1"/>
<rect x="99" y="323" width="1" height="1"/>
<rect x="102" y="323" width="1" height="1"/>
<rect x="105" y="323" width="1" height="1"/>
<rect x="108" y="323" width="1" height="1"/>
<rect x="111" y="323" width="1" height="1"/>
<rect x="114" y="323" width="1" height="1"/>
<rect x="117" y="323" width="1" height="1"/>
<rect x="120" y="323" width="1" height="1"/>
<rect x="123" y="323" width="1" height="1"/>
<rect x="126" y="323" width="1" height="1"/>
<rect x="129" y="323" width="1" height="1"/>
<rect x="132" y="323" width="1" height="1"/>
<rect x="135" y="323" width="1" height="1"/>
<rect x="138" y="323" width="1" height="1"/>
<rect x="141" y="323" width="1" height="1"/>
<rect x="144" y="323" width="1" height="1"/>
<rect x="147" y="323" width="1" height="1"/>
<rect x="150" y="323" width="1" height="1"/>
<rect x="153" y="323" width="1" height="1"/>
<rect x="156" y="323" width="1" height="1"/>
<rect x="159" y="323" width="1" height="1"/>
<rect x="162" y="323" width="1" height="1"/>
<rect x="165" y="323" width="1" height="1"/>
<rect x="168" y="323" width="1" height="1"/>
<rect x="171" y="323" width="1" height="1"/>
<rect x="174" y="323" width="1" height="1"/>
<rect x="177" y="323" width="1" height="1"/>
<rect x="180" y="323" width="1" height="1"/>
<rect x="183" y="323" width="1" height="1"/>
<rect x="186" y="323" width="1" height="1"/>
<rect x="189" y="323" width="1" height="1"/>
<rect x="192" y="323" width="1" height="1"/>
<rect x="195" y="323" width="1" height="1"/>
<rect x="198" y="323" width="1" height="1"/>
<rect x="201" y="323" width="1" height="1"/>
<rect x="204" y="323" width="1" height="1"/>
<rect x="207" y="323" width="1" height="1"/>
<rect x="210" y="323" width="1" height="1"/>
<rect x="213" y="323" width="1" height="1"/>
<rect x="216" y="323" width="1" height="1"/>
<rect x="219" y="323" width="1" height="1"/>
<rect x="222" y="323" width="1" height="1"/>
<rect x="225" y="323" width="1" height="1"/>
<rect x="228" y="323" width="1" height="1"/>
<rect x="231" y="323" width="1" height="1"/>
<rect x="234" y="323" width="1" height="1"/>
<rect x="237" y="323" width="1" height="1"/>
<rect x="240" y="323" width="1" height="1"/>
<rect x="243" y="323" width="1" height="1"/>
<rect x="246" y="323" width="1" height="1"/>
<rect x="249" y="323" width="1" height="1"/>
<rect x="252" y="323" width="1" height="1"/>
<rect x="255" y="323" width="1" height="1"/>
<rect x="258" y="323" width="1" height="1"/>
<rect x="261" y="323" width="1" height="1"/>
<rect x="264" y="323" width="1" height="1"/>
<rect x="267" y="323" width="1" height="1"/>
<rect x="270" y="323" width="1" height="1"/>
<rect x="273" y="323" width="1" height="1"/>
<rect x="276" y="323" width="1" height="1"/>
<rect x="279" y="323" width="1" height="1"/>
<rect x="282" y="323" width="1" height="1"/>
<rect x="285" y="323" width="1" height="1"/>
<rect x="288" y="323" width="1" height="1"/>
<rect x="291" y="323" width="1" height="1"/>
<rect x="294" y="323" width="1" height="1"/>
<rect x="297" y="323" width="1" height="1"/>
<rect x="300" y="323" width="1" height="1"/>
<rect x="303" y="323" width="1" height="1"/>
<rect x="306" y="323" width="1" height="1"/>
<rect x="309" y="323" width="1" height="1"/>
<rect x="312" y="323" width="1" height="1"/>
<rect x="315" y="323" width="1" height="1"/>
<rect x="318" y="323" width="1" height="1"/>
<rect x="321" y="323" width="1" height="1"/>
<rect x="324" y="323" width="1" height="1"/>
<rect x="327" y="323" width="1" height="1"/>
<rect x="330" y="323" width="1" height="1"/>
<rect x="333" y="323" width="1" height="1"/>
<rect x="336" y="323" width="1" height="1"/>
<rect x="339" y="323" width="1" height="1"/>
<rect x="342" y="323" width="1" height="1"/>
<rect x="345" y="323" width="1" height="1"/>
<rect x="348" y="323" width="1" height="1"/>
<rect x="351" y="323" width="1" height="1"/>
<rect x="354" y="323" width="1" height="1"/>
<rect x="357" y="323" width="1" height="1"/>
<rect x="360" y="323" width="1" height="1"/>
<rect x="363" y="323" width="1" height="1"/>
<rect x="366" y="323" width="1" height="1"/>
<rect x="369" y="323" width="1" height="1"/>
<rect x="372" y="323" width="1" height="1"/>
<rect x="375" y="323" width="1" height="1"/>
<rect x="378" y="323" width="1" height="1"/>
<rect x="381" y="323" width="1" height="1"/>
<rect x="384" y="323" width="1" height="1"/>
<rect x="387" y="323" width="1" height="1"/>
<rect x="390" y="323" width="1" height="1"/>
<rect x="393" y="323" width="1" height="1"/>
<rect x="396" y="323" width="1" height="1"/>
<rect x="399" y="323" width="1" height="1"/>
<rect x="402" y="323" width="1" height="1"/>
<rect x="405" y="323" width="1" height="1"/>
<rect x="408" y="323" width="1" height="1"/>
<rect x="411" y="323" width="1" height="1"/>
<rect x="414" y="323" width="1" height="1"/>
<rect x="417" y="323" width="1" height="1"/>
<rect x="420" y="323" width="1" height="1"/>
<rect x="423" y="323" width="1" height="1"/>
<rect x="426" y="323" width="1" height="1"/>
<rect x="429" y="323" width="1" height="1"/>
<rect x="432" y="323" width="1" height="1"/>
<rect x="435" y="323" width="1" height="1"/>
<rect x="438" y="323" width="1" height="1"/>
<rect x="441" y="323" width="1" height="1"/>
<rect x="444" y="323" width="1" height="1"/>
<rect x="447" y="323" width="1" height="1"/>
<rect x="450" y="323" width="1" height="1"/>
<rect x="453" y="323" width="1" height="1"/>
<rect x="456" y="323" width="1" height="1"/>
<rect x="459" y="323" width="1" height="1"/>
<rect x="462" y="323" width="1" height="1"/>
<rect x="465" y="323" width="1" height="1"/>
<rect x="468" y="323" width="1" height="1"/>
<rect x="471" y="323" width="1" height="1"/>
<rect x="474" y="323" width="1" height="1"/>
<rect x="477" y="323" width="1" height="1"/>
<rect x="480" y="323" width="1" height="1"/>
<rect x="483" y="323" width="1" height="1"/>
<rect x="486" y="323" width="1" height="1"/>
<rect x="489" y="323" width="1" height="1"/>
<rect x="492" y="323" width="1" height="1"/>
<rect x="495" y="323" width="1" height="1"/>
<rect x="498" y="323" width="1" height="1"/>
<rect x="501" y="323" width="1" height="1"/>
<rect x="504" y="323" width="1" height="1"/>
<rect x="507" y="323" width="1" height="1"/>
<rect x="510" y="323" width="1" height="1"/>
<rect x="513" y="323" width="1" height="1"/>
<rect x="516" y="323" width="1" height="1"/>
<rect x="519" y="323" width="1" height="1"/>
<rect x="522" y="323" width="1" height="1"/>
<rect x="525" y="323" width="1" height="1"/>
<rect x="528" y="323" width="1" height="1"/>
<rect x="531" y="323" width="1" height="1"/>
<rect x="534" y="323" width="1" height="1"/>
<rect x="537" y="323" width="1" height="1"/>
<rect x="540" y="323" width="1" height="1"/>
<rect x="543" y="323" width="1" height="1"/>
<rect x="546" y="323" width="1" height="1"/>
<rect x="549" y="323" width="1" height="1"/>
<rect x="552" y="323" width="1" height="1"/>
<rect x="555" y="323" width="1" height="1"/>
<rect x="558" y="323" width="1" height="1"/>
<rect x="561" y="323" width="1" height="1"/>
<rect x="564" y="323" width="1" height="1"/>
<rect x="567" y="323" width="1" height="1"/>
<rect x="570" y="323" width="1" height="1"/>
<rect x="573" y="323" width="1" height="1"/>
<rect x="576" y="323" width="1" height="1"/>
<rect x="579" y="323" width="1" height="1"/>
<rect x="582" y="323" width="1" height="1"/>
<rect x="585" y="323" width="1" height="1"/>
<rect x="588" y="323" width="1" height="1"/>
<rect x="591" y="323" width="1" height="1"/>
<rect x="594" y="323" width="1" height="1"/>
<rect x="597" y="323" width="1" height="1"/>
<rect x="600" y="323" width="1" height="1"/>
<rect x="603" y="323" width="1" height="1"/>
<rect x="606" y="323" width="1" height="1"/>
<rect x="609" y="323" width="1" height="1"/>
<rect x="612" y="323" width="1" height="1"/>
<rect x="615" y="323" width="1" height="1"/>
<rect x="618" y="323" width="1" height="1"/>
<rect x="621" y="323" width="1" height="1"/>
<rect x="624" y="323" width="1" height="1"/>
<rect x="627" y="323" width="1" height="1"/>
<rect x="630" y="323" width="1" height="1"/>
<rect x="633" y="323" width="1" height="1"/>
<rect x="636" y="323" width="1" height="1"/>
<rect x="639" y="323" width="1" height="1"/>
<rect x="642" y="323" width="1" height="1"/>
<rect x="645" y="323" width="1" height="1"/>
<rect x="648" y="323" width="1" height="1"/>
<rect x="651" y="323" width="1" height="1"/>
<rect x="654" y="323" width="1" height="1"/>
<rect x="657" y="323" width="1" height="1"/>
<rect x="660" y="323" width="1" height="1"/>
<rect x="663" y="323" width="1" height="1"/>
<rect x="666" y="323" width="1" height="1"/>
<rect x="669" y="323" width="1" height="1"/>
<rect x="672" y="323" width="1" height="1"/>
<rect x="675" y="323" width="1" height="1"/>
<rect x="678" y="323" width="1" height="1"/>
<rect x="681" y="323" width="1" height="1"/>
<rect x="684" y="323" width="1" height="1"/>
<rect x="687" y="323" width="1" height="1"/>
<rect x="690" y="323" width="1" height="1"/>
<rect x="693" y="323" width="1" height="1"/>
<rect x="696" y="323" width="1" height="1"/>
<rect x="699" y="323" width="1" height="1"/>
<rect x="702" y="323" width="1" height="1"/>
<rect x="705" y="323" width="1" height="1"/>
<rect x="708" y="323" width="1" height="1"/>
<rect x="711" y="323" width="1" height="1"/>
<rect x="714" y="323" width="1" height="1"/>
<rect x="717" y="323" width="1" height="1"/>
<rect x="720" y="323" width="1" height="1"/>
<rect x="723" y="323" width="1" height="1"/>
<rect x="726" y="323" width="1" height="1"/>
<rect x="729" y="323" width="1" height="1"/>
<rect x="732" y="323" width="1" height="1"/>
<rect x="735" y="323" width="1" height="1"/>
<rect x="738" y="323" width="1" height="1"/>
<rect x="741" y="323" width="1" height="1"/>
<rect x="744" y="323" width="1" height="1"/>
<rect x="747" y="323" width="1" height="1"/>
<rect x="750" y="323" width="1" height="1"/>
<rect x="753" y="323" width="1" height="1"/>
<rect x="756" y="323" width="1" height="1"/>
<rect x="759" y="323" width="1" height="1"/>
<rect x="762" y="323" width="1" height="1"/>
<rect x="765" y="323" width="1" height="1"/>
<rect x="768" y="323" width="1" height="1"/>
<rect x="771" y="323" width="1" height="1"/>
<rect x="774" y="323" width="1" height="1"/>
<rect x="777" y="323" width="1" height="1"/>
<rect x="780" y="323" width="1" height="1"/>
<rect x="783" y="323" width="1" height="1"/>
<rect x="786" y="323" width="1" height="1"/>
<rect x="789" y="323" width="1" height="1"/>
<rect x="792" y="323" width="1" height="1"/>
<rect x="795" y="323" width="1" height="1"/>
<rect x="798" y="323" width="1" height="1"/>
<rect x="801" y="323" width="1" height="1"/>
<rect x="804" y="323" width="1" height="1"/>
<rect x="807" y="323" width="1" height="1"/>
<rect x="810" y="323" width="1" height="1"/>
<rect x="813" y="323" width="1" height="1"/>
<rect x="816" y="323" width="1" height="1"/>
<rect x="819" y="323" width="1" height="1"/>
<rect x="822" y="323" width="1" height="1"/>
<rect x="825" y="323" width="1" height="1"/>
<rect x="828" y="323" width="1" height="1"/>
<rect x="831" y="323" width="1" height="1"/>
<rect x="834" y="323" width="1" height="1"/>
<rect x="837" y="323" width="1" height="1"/>
<rect x="840" y="323" width="1" height="1"/>
<rect x="843" y="323" width="1" height="1"/>
<rect x="846" y="323" width="1" height="1"/>
<rect x="849" y="323" width="1" height="1"/>
<rect x="852" y="323" width="1" height="1"/>
<rect x="855" y="323" width="1" height="1"/>
<rect x="858" y="323" width="1" height="1"/>
<rect x="861" y="323" width="1" height="1"/>
<rect x="864" y="323" width="1" height="1"/>
<rect x="867" y="323" width="1" height="1"/>
<rect x="870" y="323" width="1" height="1"/>
<rect x="873" y="323" width="1" height="1"/>
<rect x="876" y="323" width="1" height="1"/>
<rect x="879" y="323" width="1" height="1"/>
<rect x="882" y="323" width="1" height="1"/>
<rect x="885" y="323" width="1" height="1"/>
<rect x="888" y="323" width="1" height="1"/>
<rect x="891" y="323" width="1" height="1"/>
<rect x="894" y="323" width="1" height="1"/>
<rect x="897" y="323" width="1" height="1"/>
<rect x="900" y="323" width="1" height="1"/>
<rect x="903" y="323" width="1" height="1"/>
<rect x="906" y="323" width="1" height="1"/>
<rect x="909" y="323" width="1" height="1"/>
<rect x="912" y="323" width="1" height="1"/>
<rect x="915" y="323" width="1" height="1"/>
<rect x="918" y="323" width="1" height="1"/>
<rect x="921" y="323" width="1" height="1"/>
<rect x="924" y="323" width="1" height="1"/>
<rect x="927" y="323" width="1" height="1"/>
<rect x="930" y="323" width="1" height="1"/>
<rect x="933" y="323" width="1" height="1"/>
<rect x="936" y="323" width="1" height="1"/>
<rect x="939" y="323" width="1" height="1"/>
<rect x="942" y="323" width="1" height="1"/>
<rect x="945" y="323" width="1" height="1"/>
<rect x="948" y="323" width="1" height="1"/>
<rect x="951" y="323" width="1" height="1"/>
<rect x="954" y="323" width="1" height="1"/>
<rect x="957" y="323" width="1" height="1"/>
<rect x="960" y="323" width="1" height="1"/>
<rect x="963" y="323" width="1" height="1"/>
<rect x="966" y="323" width="1" height="1"/>
<rect x="969" y="323" width="1" height="1"/>
<rect x="972" y="323" width="1" height="1"/>
<rect x="975" y="323" width="1" height="1"/>
<rect x="978" y="323" width="1" height="1"/>
<rect x="981" y="323" width="1" height="1"/>
<rect x="984" y="323" width="1" height="1"/>
<rect x="987" y="323" width="1" height="1"/>
<rect x="990" y="323" width="1" height="1"/>
<rect x="993" y="323" width="1" height="1"/>
<rect x="996" y="323" width="1" height="1"/>
<rect x="999" y="323" width="1" height="1"/>
<rect x="1002" y="323" width="1" height="1"/>
<rect x="1005" y="323" width="1" height="1"/>
<rect x="1008" y="323" width="1" height="1"/>
<rect x="1011" y="323" width="1" height="1"/>
<rect x="1014" y="323" width="1" height="1"/>
<rect x="1017" y="323" width="1" height="1"/>
<rect x="1020" y="323" width="1" height="1"/>
<rect x="1023" y="323" width="1" height="1"/>
<rect x="1026" y="323" width="1" height="1"/>
<rect x="1029" y="323" width="1" height="1"/>
<rect x="1032" y="323" width="1" height="1"/>
<rect x="1035" y="323" width="1" height="1"/>
<rect x="1038" y="323" width="1" height="1"/>
<rect x="1041" y="323" width="1" height="1"/>
<rect x="1044" y="323" width="1" height="1"/>
<rect x="1047" y="323" width="1" height="1"/>
<rect x="1050" y="323" width="1" height="1"/>
<rect x="1053" y="323" width="1" height="1"/>
<rect x="1056" y="323" width="1" height="1"/>
<rect x="1059" y="323" width="1" height="1"/>
<rect x="1062" y="323" width="1" height="1"/>
<rect x="1065" y="323" width="1" height="1"/>
<rect x="1068" y="323" width="1" height="1"/>
<rect x="1071" y="323" width="1" height="1"/>
<rect x="1074" y="323" width="1" height="1"/>
<rect x="1077" y="323" width="1" height="1"/>
<rect x="1080" y="323" width="1" height="1"/>
<rect x="1083" y="323" width="1" height="1"/>
<rect x="1086" y="323" width="1" height="1"/>
<rect x="1089" y="323" width="1" height="1"/>
<rect x="1092" y="323" width="1" height="1"/>
<rect x="1095" y="323" width="1" height="1"/>
<rect x="1098" y="323" width="1" height="1"/>
<rect x="1101" y="323" width="1" height="1"/>
<rect x="1104" y="323" width="1" height="1"/>
<rect x="1107" y="323" width="1" height="1"/>
<rect x="1110" y="323" width="1" height="1"/>
<rect x="1113" y="323" width="1" height="1"/>
<rect x="1116" y="323" width="1" height="1"/>
<rect x="1119" y="323" width="1" height="1"/>
<rect x="1122" y="323" width="1" height="1"/>
<rect x="1125" y="323" width="1" height="1"/>
<rect x="1128" y="323" width="1" height="1"/>
<rect x="1131" y="323" width="1" height="1"/>
<rect x="1134" y="323" width="1" height="1"/>
<rect x="1137" y="323" width="1" height="1"/>
<rect x="1140" y="323" width="1" height="1"/>
<rect x="1143" y="323" width="1" height="1"/>
<rect x="1146" y="323" width="1" height="1"/>
<rect x="1149" y="323" width="1" height="1"/>
<rect x="1152" y="323" width="1" height="1"/>
<rect x="1155" y="323" width="1" height="1"/>
<rect x="1158" y="323" width="1" height="1"/>
<rect x="1161" y="323" width="1" height="1"/>
<rect x="1164" y="323" width="1" height="1"/>
<rect x="1167" y="323" width="1" height="1"/>
<rect x="1170" y="323" width="1" height="1"/>
<rect x="1173" y="323" width="1" height="1"/>
<rect x="1176" y="323" width="1" height="1"/>
<rect x="1179" y="323" width="1" height="1"/>
<rect x="1182" y="323" width="1" height="1"/>
<rect x="1185" y="323" width="1" height="1"/>
<rect x="1188" y="323" width="1" height="1"/>
<rect x="1191" y="323" width="1" height="1"/>
<rect x="1194" y="323" width="1" height="1"/>
<rect x="1197" y="323" width="1" height="1"/>
<rect x="1200" y="323" width="1" height="1"/>
<rect x="1203" y="323" width="1" height="1"/>
</g>
<rect x="12" y="381" width="1245" height="1" fill="#474d57"/>
<g fill="#c3c6cd">
<rect x="12" y="295" width="5" height="1"/>
<rect x="23" y="295" width="5" height="1"/>
<rect x="34" y="295" width="5" height="1"/>
<rect x="45" y="295" width="5" height="1"/>
<rect x="56" y="295" width="5" height="1"/>
<rect x="67" y="295" width="5" height="1"/>
<rect x="78" y="295" width="5" height="1"/>
<rect x="89" y="295" width="5" height="1"/>
<rect x="100" y="295" width="5" height="1"/>
<rect x="111" y="295" width="5" height="1"/>
<rect x="122" y="295" width="5" height="1"/>
<rect x="133" y="295" width="5" height="1"/>
<rect x="144" y="295" width="5" height="1"/>
<rect x="155" y="295" width="5" height="1"/>
<rect x="166" y="295" width="5" height="1"/>
<rect x="177" y="295" width="5" height="1"/>
<rect x="188" y="295" width="5" height="1"/>
<rect x="199" y="295" width="5" height="1"/>
<rect x="210" y="295" width="5" height="1"/>
<rect x="221" y="295" width="5" height="1"/>
<rect x="232" y="295" width="5" height="1"/>
<rect x="243" y="295" width="5" height="1"/>
<rect x="254" y="295" width="5" height="1"/>
<rect x="265" y="295" width="5" height="1"/>
<rect x="276" y="295" width="5" height="1"/>
<rect x="287" y="295" width="5" height="1"/>
<rect x="298" y="295" width="5" height="1"/>
<rect x="309" y="295" width="5" height="1"/>
<rect x="320" y="295" width="5" height="1"/>
<rect x="331" y="295" width="5" height="1"/>
<rect x="342" y="295" width="5" height="1"/>
<rect x="353" y="295" width="5" height="1"/>
<rect x="364" y="295" width="5" height="1"/>
<rect x="375" y="295" width="5" height="1"/>
<rect x="386" y="295" width="5" height="1"/>
<rect x="397" y="295" width="5" height="1"/>
<rect x="408" y="295" width="5" height="1"/>
<rect x="419" y="295" width="5" height="1"/>
<rect x="430" y="295" width="5" height="1"/>
<rect x="441" y="295" width="5" height="1"/>
<rect x="452" y="295" width="5" height="1"/>
<rect x="463" y="295" width="5" height="1"/>
<rect x="474" y="295" width="5" height="1"/>
<rect x="485" y="295" width="5" height="1"/>
<rect x="496" y="295" width="5" height="1"/>
<rect x="507" y="295" width="5" height="1"/>
<rect x="518" y="295" width="5" height="1"/>
<rect x="529" y="295" width="5" height="1"/>
<rect x="540" y="295" width="5" height="1"/>
<rect x="551" y="295" width="5" height="1"/>
<rect x="562" y="295" width="5" height="1"/>
<rect x="573" y="295" width="5" height="1"/>
<rect x="584" y="295" width="5" height="1"/>
<rect x="595" y="295" width="5" height="1"/>
<rect x="606" y="295" width="5" height="1"/>
<rect x="617" y="295" width="5" height="1"/>
<rect x="628" y="295" width="5" height="1"/>
<rect x="639" y="295" width="5" height="1"/>
<rect x="650" y="295" width="5" height="1"/>
<rect x="661" y="295" width="5" height="1"/>
<rect x="672" y="295" width="5" height="1"/>
<rect x="683" y="295" width="5" height="1"/>
<rect x="694" y="295" width="5" height="1"/>
<rect x="705" y="295" width="5" height="1"/>
<rect x="716" y="295" width="5" height="1"/>
<rect x="727" y="295" width="5" height="1"/>
<rect x="738" y="295" width="5" height="1"/>
<rect x="749" y="295" width="5" height="1"/>
<rect x="760" y="295" width="5" height="1"/>
<rect x="771" y="295" width="5" height="1"/>
<rect x="782" y="295" width="5" height="1"/>
<rect x="793" y="295" width="5" height="1"/>
<rect x="804" y="295" width="5" height="1"/>
<rect x="815" y="295" width="5" height="1"/>
<rect x="826" y="295" width="5" height="1"/>
<rect x="837" y="295" width="5" height="1"/>
<rect x="848" y="295" width="5" height="1"/>
<rect x="859" y="295" width="5" height="1"/>
<rect x="870" y="295" width="5" height="1"/>
<rect x="881" y="295" width="5" height="1"/>
<rect x="892" y="295" width="5" height="1"/>
<rect x="903" y="295" width="5" height="1"/>
<rect x="914" y="295" width="5" height="1"/>
<rect x="925" y="295" width="5" height="1"/>
<rect x="936" y="295" width="5" height="1"/>
<rect x="947" y="295" width="5" height="1"/>
<rect x="958" y="295" width="5" height="1"/>
<rect x="969" y="295" width="5" height="1"/>
<rect x="980" y="295" width="5" height="1"/>
<rect x="991" y="295" width="5" height="1"/>
<rect x="1002" y="295" width="5" height="1"/>
<rect x="1013" y="295" width="5" height="1"/>
<rect x="1024" y="295" width="5" height="1"/>
<rect x="1035" y="295" width="5" height="1"/>
<rect x="1046" y="295" width="5" height="1"/>
<rect x="1057" y="295" width="5" height="1"/>
<rect x="1068" y="295" width="5" height="1"/>
<rect x="1079" y="295" width="5" height="1"/>
<rect x="1090" y="295" width="5" height="1"/>
<rect x="1101" y="295" width="5" height="1"/>
<rect x="1112" y="295" width="5" height="1"/>
<rect x="1123" y="295" width="5" height="1"/>
<rect x="1134" y="295" width="5" height="1"/>
<rect x="1145" y="295" width="5" height="1"/>
<rect x="1156" y="295" width="5" height="1"/>
<rect x="1167" y="295" width="5" height="1"/>
<rect x="1178" y="295" width="5" height="1"/>
<rect x="1189" y="295" width="5" height="1"/>
<rect x="1200" y="295" width="5" height="1"/>
<rect x="749" y="0" width="1" height="5"/>
<rect x="749" y="11" width="1" height="5"/>
<rect x="749" y="22" width="1" height="5"/>
<rect x="749" y="33" width="1" height="5"/>
<rect x="749" y="44" width="1" height="5"/>
<rect x="749" y="55" width="1" height="5"/>
<rect x="749" y="66" width="1" height="5"/>
<rect x="749" y="77" width="1" height="5"/>
<rect x="749" y="88" width="1" height="5"/>
<rect x="749" y="99" width="1" height="5"/>
<rect x="749" y="110" width="1" height="5"/>
<rect x="749" y="121" width="1" height="5"/>
<rect x="749" y="132" width="1" height="5"/>
<rect x="749" y="143" width="1" height="5"/>
<rect x="749" y="154" width="1" height="5"/>
<rect x="749" y="165" width="1" height="5"/>
<rect x="749" y="176" width="1" height="5"/>
<rect x="749" y="187" width="1" height="5"/>
<rect x="749" y="198" width="1" height="5"/>
<rect x="749" y="209" width="1" height="5"/>
<rect x="749" y="220" width="1" height="5"/>
<rect x="749" y="231" width="1" height="5"/>
<rect x="749" y="242" width="1" height="5"/>
<rect x="749" y="253" width="1" height="5"/>
<rect x="749" y="264" width="1" height="5"/>
<rect x="749" y="275" width="1" height="5"/>
<rect x="749" y="286" width="1" height="5"/>
<rect x="749" y="297" width="1" height="5"/>
<rect x="749" y="308" width="1" height="5"/>
<rect x="749" y="319" width="1" height="5"/>
<rect x="749" y="330" width="1" height="5"/>
<rect x="749" y="341" width="1" height="5"/>
<rect x="749" y="352" width="1" height="5"/>
<rect x="749" y="363" width="1" height="5"/>
<rect x="749" y="374" width="1" height="5"/>
<rect x="749" y="382" width="1" height="5"/>
<rect x="749" y="393" width="1" height="5"/>
<rect x="749" y="404" width="1" height="5"/>
<rect x="749" y="415" width="1" height="5"/>
<rect x="749" y="426" width="1" height="5"/>
<rect x="749" y="437" width="1" height="5"/>
<rect x="749" y="448" width="1" height="5"/>
<rect x="749" y="459" width="1" height="5"/>
<rect x="749" y="470" width="1" height="5"/>
<rect x="749" y="481" width="1" height="5"/>
<rect x="749" y="492" width="1" height="5"/>
<rect x="749" y="503" width="1" height="5"/>
<rect x="749" y="514" width="1" height="5"/>
<rect x="749" y="525" width="1" height="5"/>
<rect x="749" y="536" width="1" height="5"/>
<rect x="749" y="547" width="1" height="5"/>
<rect x="749" y="558" width="1" height="5"/>
<rect x="749" y="569" width="1" height="2"/>
</g>
<rect x="1205" y="0" width="52" height="571" fill="#161a1e"/>
<rect x="12" y="381" width="1245" height="1" fill="#474d57"/>
<rect x="1205" y="0" width="1" height="571" fill="#474d57"/>
<g fill="#474d57">
<rect x="1206" y="21" width="4" height="1"/>
<rect x="1206" y="88" width="4" height="1"/>
<rect x="1206" y="154" width="4" height="1"/>
<rect x="1206" y="221" width="4" height="1"/>
<rect x="1206" y="288" width="4" height="1"/>
<rect x="1206" y="354" width="4" height="1"/>
<rect x="1206" y="404" width="4" height="1"/>
<rect x="1206" y="442" width="4" height="1"/>
<rect x="1206" y="480" width="4" height="1"/>
<rect x="1206" y="518" width="4" height="1"/>
<rect x="1206" y="556" width="4" height="1"/>
</g>
<g font-family="'Liberation Sans', sans-serif" font-size="12.7" fill="#848e9c" stroke="#848e9c" stroke-width="0.2" text-rendering="geometricPrecision" shape-rendering="auto">
<text x="1213.6" y="25.7" textLength="36.6" lengthAdjust="spacingAndGlyphs">3.0000</text>
<text x="1213.6" y="92.7" textLength="36.6" lengthAdjust="spacingAndGlyphs">2.5000</text>
<text x="1213.6" y="158.7" textLength="36.6" lengthAdjust="spacingAndGlyphs">2.0000</text>
<text x="1213.6" y="225.7" textLength="36.6" lengthAdjust="spacingAndGlyphs">1.5000</text>
<text x="1213.6" y="292.7" textLength="36.6" lengthAdjust="spacingAndGlyphs">1.0000</text>
<text x="1213.6" y="358.7" textLength="36.6" lengthAdjust="spacingAndGlyphs">0.5000</text>
<text x="1213.6" y="408.9" textLength="24" lengthAdjust="spacingAndGlyphs">1.6B</text>
<text x="1213.6" y="446.9" textLength="24" lengthAdjust="spacingAndGlyphs">1.2B</text>
<text x="1213.6" y="484.9" textLength="28.3" lengthAdjust="spacingAndGlyphs">800M</text>
<text x="1213.6" y="522.9" textLength="28.3" lengthAdjust="spacingAndGlyphs">400M</text>
<text x="1213.6" y="560.9" textLength="7.3" lengthAdjust="spacingAndGlyphs">0</text>
</g>
<rect x="1205" y="286" width="52" height="19" fill="#4c525e"/>
<rect x="1205" y="314" width="52" height="19" fill="#f6465d"/>
<rect x="1205" y="295" width="4" height="1" fill="#e8e9ec"/>
<rect x="1205" y="323" width="4" height="1" fill="#ffffff"/>
<g font-family="'Liberation Sans', sans-serif" font-size="12" font-weight="bold" fill="#ffffff" shape-rendering="auto">
<text x="1213.5" y="299.8" textLength="36" lengthAdjust="spacingAndGlyphs">0.9447</text>
<text x="1213.5" y="327.8" textLength="36" lengthAdjust="spacingAndGlyphs">0.7379</text>
</g>
<rect x="18" y="8" width="812" height="21" fill="#161a1e"/>
<rect x="17" y="391" width="108" height="17" fill="#161a1e"/>
<rect x="749" y="11" width="1" height="5" fill="#6b6f78"/><rect x="749" y="22" width="1" height="5" fill="#6b6f78"/>
<g font-family="'Liberation Sans', sans-serif" shape-rendering="auto">
<text x="21.4" y="21.7" font-size="14.4" fill="#848e9c" stroke="#848e9c" stroke-width="0.2" textLength="73.5" lengthAdjust="spacingAndGlyphs">ALGOUSDT</text>
<text x="101.7" y="21.7" font-size="14.4" fill="#848e9c" stroke="#848e9c" stroke-width="0.2" textLength="88.9" lengthAdjust="spacingAndGlyphs">Бессрочный</text>
<text x="195.7" y="21.7" font-size="14.4" fill="#848e9c" stroke="#848e9c" stroke-width="0.2" textLength="118.4" lengthAdjust="spacingAndGlyphs">Последняя цена</text>
<text x="317.8" y="21.7" font-size="14.4" fill="#848e9c" stroke="#848e9c" stroke-width="0.2" textLength="4.0" lengthAdjust="spacingAndGlyphs">·</text>
<text x="326.3" y="21.7" font-size="14.4" fill="#848e9c" stroke="#848e9c" stroke-width="0.2" textLength="19.6" lengthAdjust="spacingAndGlyphs">1Д</text>
<text x="350.2" y="21.7" font-size="14.4" fill="#848e9c" stroke="#848e9c" stroke-width="0.2" textLength="4.0" lengthAdjust="spacingAndGlyphs">·</text>
<text x="357.5" y="21.7" font-size="14.4" fill="#848e9c" stroke="#848e9c" stroke-width="0.2" textLength="56.3" lengthAdjust="spacingAndGlyphs">Binance</text>
<text x="421.6" y="22.1" font-size="13" fill="#848e9c" textLength="32.2" lengthAdjust="spacingAndGlyphs">ОТКР</text>
<text x="455.1" y="22.1" font-size="13" fill="#0ecb81" stroke="#0ecb81" stroke-width="0.4" textLength="38.1" lengthAdjust="spacingAndGlyphs">0.8293</text>
<text x="499.4" y="22.1" font-size="13" fill="#848e9c" textLength="32.7" lengthAdjust="spacingAndGlyphs">МАКС</text>
<text x="533.9" y="22.1" font-size="13" fill="#0ecb81" stroke="#0ecb81" stroke-width="0.4" textLength="38.5" lengthAdjust="spacingAndGlyphs">0.8814</text>
<text x="578.1" y="22.1" font-size="13" fill="#848e9c" textLength="27.9" lengthAdjust="spacingAndGlyphs">МИН</text>
<text x="607.1" y="22.1" font-size="13" fill="#0ecb81" stroke="#0ecb81" stroke-width="0.4" textLength="38.0" lengthAdjust="spacingAndGlyphs">0.8169</text>
<text x="651.2" y="22.1" font-size="13" fill="#848e9c" textLength="29.5" lengthAdjust="spacingAndGlyphs">ЗАКР</text>
<text x="682.6" y="22.1" font-size="13" fill="#0ecb81" stroke="#0ecb81" stroke-width="0.4" textLength="38.1" lengthAdjust="spacingAndGlyphs">0.8589</text>
<text x="728.3" y="22.1" font-size="13" fill="#0ecb81" stroke="#0ecb81" stroke-width="0.4" textLength="43.7" lengthAdjust="spacingAndGlyphs">+0.0298</text>
<text x="777.9" y="22.1" font-size="13" fill="#0ecb81" stroke="#0ecb81" stroke-width="0.4" textLength="47.9" lengthAdjust="spacingAndGlyphs">(+3.59%)</text>
<text x="21.3" y="403" font-size="12.7" fill="#848e9c" stroke="#848e9c" stroke-width="0.2" textLength="42.1" lengthAdjust="spacingAndGlyphs">Volume</text>
<text x="71.6" y="403" font-size="12.7" fill="#0ecb81" stroke="#0ecb81" stroke-width="0.4" textLength="48.3" lengthAdjust="spacingAndGlyphs">93.867M</text>
</g>
<g shape-rendering="auto" fill="none">
<rect x="1154.5" y="6.5" width="20" height="20" rx="3.5" fill="#161a1e" stroke="#383e4a"/>
<rect x="1179.5" y="6.5" width="20" height="20" rx="3.5" fill="#161a1e" stroke="#383e4a"/>
<path d="M1164.5 12V21.3M1160.2 17.2L1164.5 21.5L1168.8 17.2" stroke="#d6d8dd" stroke-width="1.1"/>
<path d="M1184.5 15V13.5a2 2 0 0 1 2-2h6a2 2 0 0 1 2 2V15M1184.5 18V19.5a2 2 0 0 0 2 2h6a2 2 0 0 0 2-2V18" stroke="#d6d8dd" stroke-width="1.2"/>
</g>
<g shape-rendering="auto">
<circle cx="35.8" cy="549" r="16" fill="#2e3142"/>
<g fill="#35a7f0"><circle cx="28.6" cy="551.5" r="3.5"/><circle cx="33.8" cy="547.3" r="5.1"/><circle cx="40.3" cy="548.7" r="3.8"/><circle cx="43" cy="551.5" r="3.5"/><rect x="28.6" y="548.5" width="14.4" height="6.5"/></g>
<path d="M25 553.4L32.6 546.6L37.9 551.6L44.4 546" stroke="#2e3142" stroke-width="0.9" fill="none"/>
<circle cx="32.6" cy="546.6" r="1.5" fill="#2e3142"/><circle cx="37.9" cy="551.6" r="1.5" fill="#2e3142"/>
<path d="M7.9 564.2L5.2 567.6L7.9 571" stroke="#a6acb6" stroke-width="1" fill="none"/>
</g>
</svg>
</body></html>
